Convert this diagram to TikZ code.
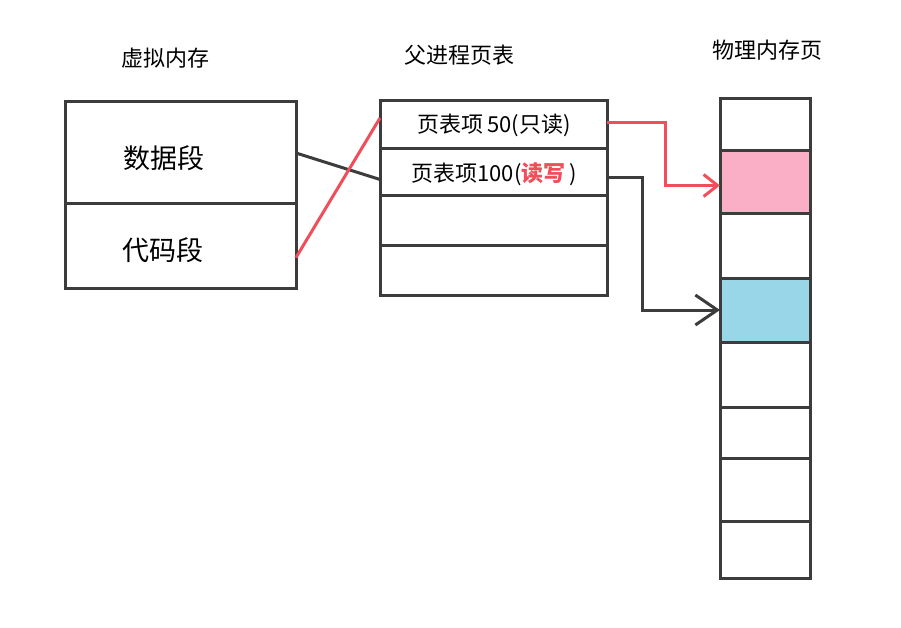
\documentclass[tikz,border=0pt]{standalone}
\usepackage{fontspec}
\setmainfont{Noto Sans CJK SC}
\usetikzlibrary{arrows.meta,calc}
\definecolor{linegray}{HTML}{3C3C3C}
\definecolor{redline}{HTML}{F04E5A}
\definecolor{pinkfill}{HTML}{FBAFC7}
\definecolor{bluefill}{HTML}{99D7E8}
\tikzset{
  cell/.style={draw=linegray, line width=3pt, inner sep=0pt, outer sep=0pt},
  title/.style={font=\fontsize{22}{24}\selectfont, inner sep=0pt},
  lab/.style={font=\fontsize{27}{30}\selectfont, inner sep=0pt},
  entry/.style={font=\fontsize{22}{24}\selectfont, inner sep=0pt},
  redconn/.style={draw=redline, line width=3pt},
  blackconn/.style={draw=linegray, line width=3pt},
  redtip/.style={-{Straight Barb[length=14pt,width=22pt,line width=3pt]}},
  blacktip/.style={-{Straight Barb[length=22pt,width=30pt,line width=3pt]}},
}
\begin{document}
\begin{tikzpicture}[x=1pt,y=-1pt]
\useasboundingbox (0,0) rectangle (901,627);
% titles
\node[title] (t1) at (165,58) {虚拟内存};
\node[title] (t2) at (459,55) {父进程页表};
\node[title] (t3) at (767,50) {物理内存页};
% virtual memory
\node[cell, minimum width=231, minimum height=102, anchor=north west] (data) at (65,101) {};
\node[cell, minimum width=231, minimum height=85, anchor=north west] (code) at (65,203) {};
\node[lab] (datal) at (164,158) {数据段};
\node[lab] (codel) at (163,250) {代码段};
% page table
\node[cell, minimum width=227, minimum height=48, anchor=north west] (e50) at (380,100) {};
\node[cell, minimum width=227, minimum height=47, anchor=north west] (e100) at (380,148) {};
\node[cell, minimum width=227, minimum height=50, anchor=north west] (e3) at (380,195) {};
\node[cell, minimum width=227, minimum height=50, anchor=north west] (e4) at (380,245) {};
\node[entry] (e50l) at (494,125) {页表项\,50(只读)};
\node[entry] (e100l) at (494,174) {页表项100(\textcolor{redline}{\bfseries 读写}\,)};
% physical pages
\node[cell, minimum width=90, minimum height=52, anchor=north west] (p1) at (720,98) {};
\node[cell, fill=pinkfill, minimum width=90, minimum height=63, anchor=north west] (p2) at (720,150) {};
\node[cell, minimum width=90, minimum height=65, anchor=north west] (p3) at (720,213) {};
\node[cell, fill=bluefill, minimum width=90, minimum height=64, anchor=north west] (p4) at (720,278) {};
\node[cell, minimum width=90, minimum height=65, anchor=north west] (p5) at (720,342) {};
\node[cell, minimum width=90, minimum height=51, anchor=north west] (p6) at (720,407) {};
\node[cell, minimum width=90, minimum height=63, anchor=north west] (p7) at (720,458) {};
\node[cell, minimum width=90, minimum height=57, anchor=north west] (p8) at (720,521) {};
% connectors
\draw[blackconn] ([yshift=-1pt]data.east) -- ([yshift=-8pt]e100.west);
\draw[redconn] ([yshift=-12pt]code.east) -- ([yshift=6pt]e50.west);
\draw[redconn, redtip] ([yshift=2pt]e50.east) -- ++(58,0) |- ([yshift=-4pt]p2.west);
\draw[blackconn, blacktip] ([yshift=-6pt]e100.east) -- ++(35,0) |- (p4.west);
\end{tikzpicture}
\end{document}
